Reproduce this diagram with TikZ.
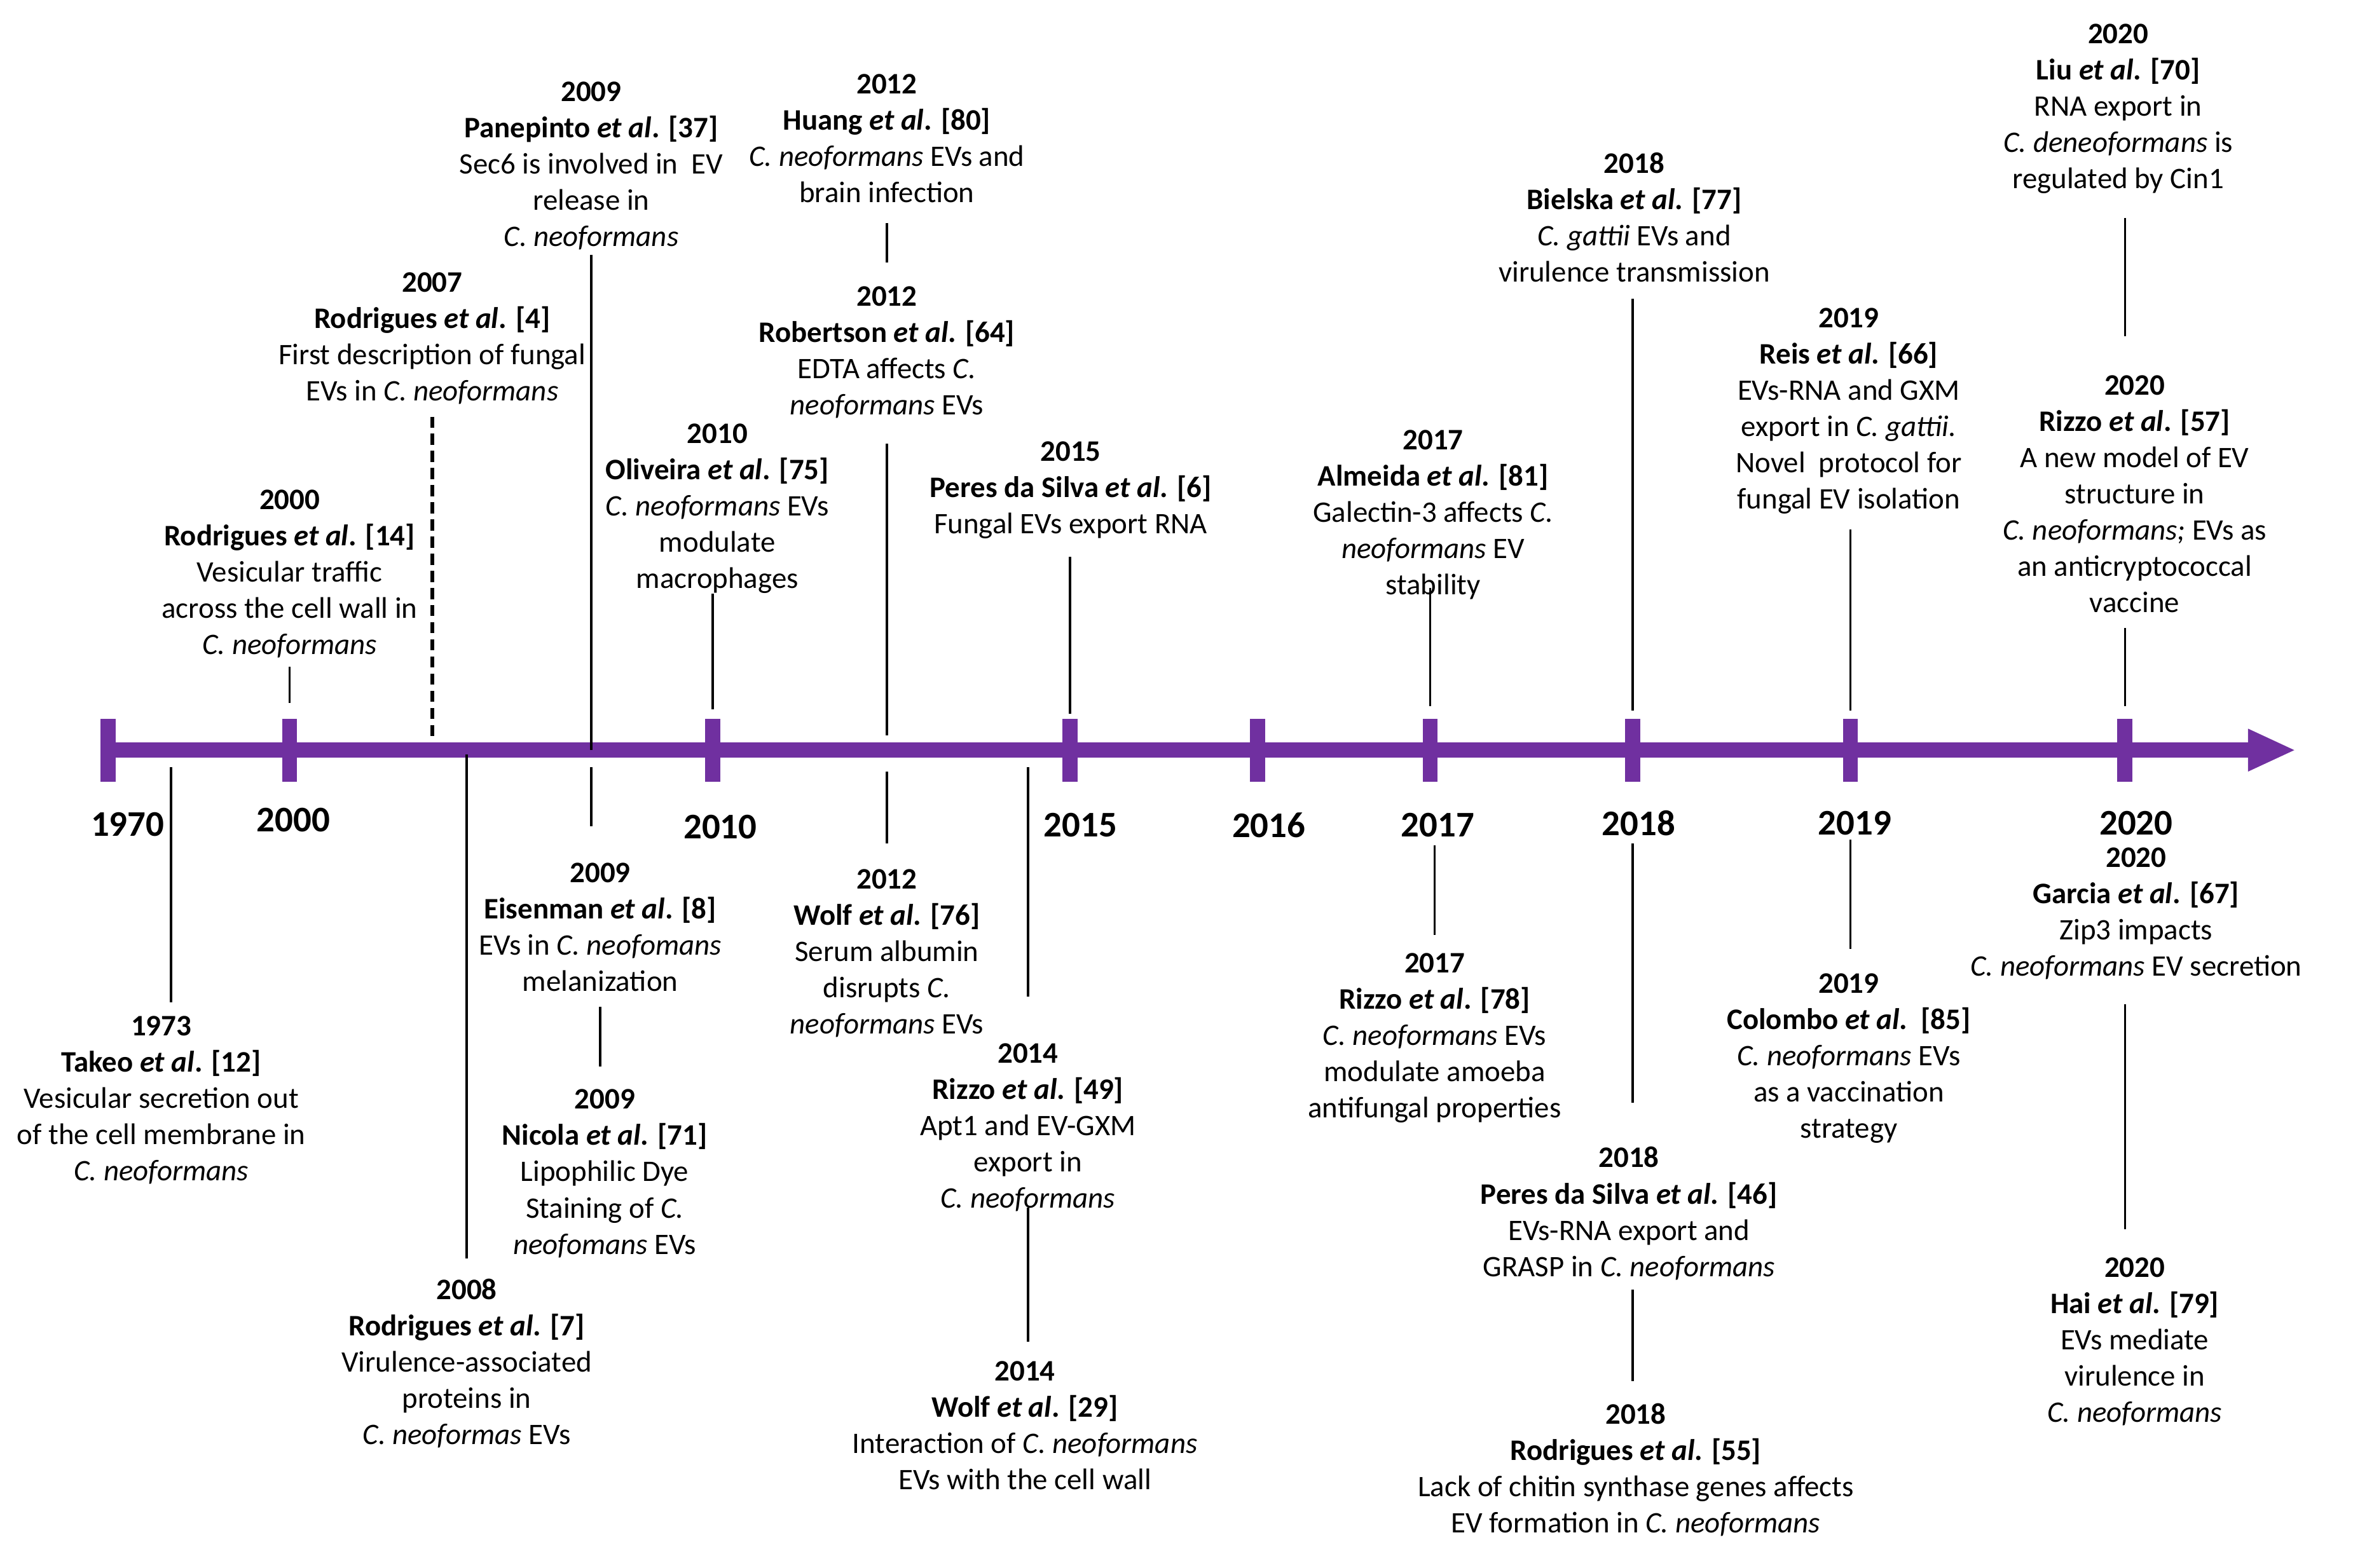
\documentclass[tikz,border=0pt]{standalone}
\usepackage{fontspec}
\setmainfont{Carlito}
\usepackage{tikz}
\usetikzlibrary{arrows.meta,calc,positioning}
\definecolor{evpurple}{RGB}{112,48,160}
\newcommand{\etal}{\textit{et al}.}
\newcommand{\cn}{\textit{C. neoformans}}
\tikzstyle{entry} = [align=center, anchor=north, inner sep=0pt,
    font=\fontsize{11.3}{13.75}\selectfont]
\tikzstyle{yearlab} = [inner sep=0pt, font=\fontsize{13.7}{16}\selectfont\bfseries]
\tikzstyle{tickmark} = [fill=evpurple, minimum width=0.2cm, minimum height=0.84cm, inner sep=0pt]
\tikzstyle{link} = [line width=0.85pt]
\tikzstyle{dashlink} = [line width=1.4pt, dash pattern=on 4.2pt off 2.3pt]
\tikzstyle{axisline} = [evpurple, line width=0.2cm, -{Triangle[length=0.64cm,width=0.52cm]}]

\begin{document}
\begin{tikzpicture}[x=0.02cm, y=-0.02cm]
  \fill[white] (0,0) rectangle (1568,1045);
  \useasboundingbox (0,0) rectangle (1568,1045);
  \coordinate (tip) at (1530,500);
  \foreach \yr/\x/\lx/\ly in {1970/72/85/549.5, 2000/193/195.5/546.7, 2010/475/480/551.3,
      2015/713/720/550, 2016/838/845.5/550, 2017/953/958/550, 2018/1088/1092/548.5,
      2019/1233/1236/548.5, 2020/1416/1423.5/548.5}{
    \node [tickmark] (t\yr) at (\x,500) {};
    \node [yearlab] (y\yr) at (\lx,\ly) {\yr};
  }
  \draw [axisline] (t1970.center) -- (tip);

  \node [entry] (rod00) at (193,326.2) {\textbf{2000}\\\textbf{Rodrigues \etal{} [14]}\\Vesicular traffic\\across the cell wall in\\\cn};
  \node [entry] (rod07) at (288,181.2) {\textbf{2007}\\\textbf{Rodrigues \etal{} [4]}\\First description of fungal\\EVs in \cn};
  \node [entry] (pane) at (394,54) {\textbf{2009}\\\textbf{Panepinto \etal{} [37]}\\Sec6 is involved in\ \ EV\\release in\\\cn};
  \node [entry] (huang) at (591,49.2) {\textbf{2012}\\\textbf{Huang \etal{} [80]}\\\cn{} EVs and\\brain infection};
  \node [entry] (robert) at (591,190.8) {\textbf{2012}\\\textbf{Robertson \etal{} [64]}\\EDTA affects \textit{C.}\\\textit{neoformans} EVs};
  \node [entry] (olive) at (478,282) {\textbf{2010}\\\textbf{Oliveira \etal{} [75]}\\\cn{} EVs\\modulate\\macrophages};
  \node [entry] (peres15) at (713.5,293.8) {\textbf{2015}\\\textbf{Peres da Silva \etal{} [6]}\\Fungal EVs export RNA};
  \node [entry] (almeida) at (955,286.2) {\textbf{2017}\\\textbf{Almeida \etal{} [81]}\\Galectin-3 affects \textit{C.}\\\textit{neoformans} EV\\stability};
  \node [entry] (bielska) at (1089,101.2) {\textbf{2018}\\\textbf{Bielska \etal{} [77]}\\\textit{C. gattii} EVs and\\virulence transmission};
  \node [entry] (reis) at (1232,205) {\textbf{2019}\\\textbf{Reis \etal{} [66]}\\EVs-RNA and GXM\\export in \textit{C. gattii.}\\Novel\ \ protocol for\\fungal EV isolation};
  \node [entry] (liu) at (1411.5,15.5) {\textbf{2020}\\\textbf{Liu \etal{} [70]}\\RNA export in\\\textit{C. deneoformans} is\\regulated by Cin1};
  \node [entry] (rizzo20) at (1422.5,249.9) {\textbf{2020}\\\textbf{Rizzo \etal{} [57]}\\A new model of EV\\structure in\\\textit{C. neoformans;} EVs as\\an anticryptococcal\\vaccine};

  \node [entry] (takeo) at (107.5,676.8) {\textbf{1973}\\\textbf{Takeo \etal{} [12]}\\Vesicular secretion out\\of the cell membrane in\\\cn};
  \node [entry] (rod08) at (311,852.2) {\textbf{2008}\\\textbf{Rodrigues \etal{} [7]}\\Virulence-associated\\proteins in\\\textit{C. neoformas} EVs};
  \node [entry] (eisen) at (400,574.7) {\textbf{2009}\\\textbf{Eisenman \etal{} [8]}\\EVs in \textit{C. neofomans}\\melanization};
  \node [entry] (nicola) at (403,725.9) {\textbf{2009}\\\textbf{Nicola \etal{} [71]}\\Lipophilic Dye\\Staining of \textit{C.}\\\textit{neofomans} EVs};
  \node [entry] (wolf12) at (591,579.2) {\textbf{2012}\\\textbf{Wolf \etal{} [76]}\\Serum albumin\\disrupts \textit{C.}\\\textit{neoformans} EVs};
  \node [entry] (rizzo14) at (685,695.2) {\textbf{2014}\\\textbf{Rizzo \etal{} [49]}\\Apt1 and EV-GXM\\export in\\\cn};
  \node [entry] (wolf14) at (683,907.2) {\textbf{2014}\\\textbf{Wolf \etal{} [29]}\\Interaction of \cn\\EVs with the cell wall};
  \node [entry] (rizzo17) at (956,635.2) {\textbf{2017}\\\textbf{Rizzo \etal{} [78]}\\\cn{} EVs\\modulate amoeba\\antifungal properties};
  \node [entry] (peres18) at (1085.5,764.2) {\textbf{2018}\\\textbf{Peres da Silva \etal{} [46]}\\EVs-RNA export and\\GRASP in \cn};
  \node [entry] (rod18) at (1090,935) {\textbf{2018}\\\textbf{Rodrigues \etal{} [55]}\\Lack of chitin synthase genes affects\\EV formation in \cn};
  \node [entry] (colombo) at (1232,648.7) {\textbf{2019}\\\textbf{Colombo \etal\ \ [85]}\\\cn{} EVs\\as a vaccination\\strategy};
  \node [entry] (garcia) at (1423.5,564.8) {\textbf{2020}\\\textbf{Garcia \etal{} [67]}\\Zip3 impacts\\\cn{} EV secretion};
  \node [entry] (hai) at (1422.5,837.9) {\textbf{2020}\\\textbf{Hai \etal{} [79]}\\EVs mediate\\virulence in\\\cn};

  \draw [link, shorten <=0.11cm, shorten >=0.2cm] (rod00.south -| t2000) -- (t2000.north);
  \draw [dashlink, shorten <=0.16cm, shorten >=0.12cm] (rod07.south) -- (rod07.south |- t1970);
  \draw [link, shorten <=0.06cm] (pane.south) -- (pane.south |- t1970);
  \draw [link, shorten <=0.26cm, shorten >=0.32cm] (huang.south) -- (huang.south |- robert.north);
  \draw [link, shorten <=0.33cm, shorten >=0.2cm] (robert.south) -- (robert.south |- t1970);
  \draw [link, shorten >=0.12cm] (olive.south -| t2010) -- (t2010.north);
  \draw [link, shorten <=0.24cm, shorten >=0.06cm] (peres15.south -| t2015) -- (t2015.north);
  \draw [link, shorten <=-0.16cm, shorten >=0.16cm] (almeida.south -| t2017) -- (t2017.north);
  \draw [link, shorten <=0.22cm, shorten >=0.1cm] (bielska.south -| t2018) -- (t2018.north);
  \draw [link, shorten <=0.2cm, shorten >=0.1cm] (reis.south -| t2019) -- (t2019.north);
  \draw [link, shorten <=0.32cm, shorten >=0.52cm] (liu.south -| t2020) -- (rizzo20.north -| t2020);
  \draw [link, shorten <=0.2cm, shorten >=0.16cm] (rizzo20.south -| t2020) -- (t2020.north);

  \draw [link, shorten <=0.23cm, shorten >=0.17cm] ($(takeo.north |- t1970)+(6.5,0)$) -- ($(takeo.north)+(6.5,0)$);
  \draw [link, shorten <=0.06cm, shorten >=0.27cm] (rod08.north |- t1970) -- (rod08.north);
  \draw [link, shorten <=0.23cm, shorten >=0.48cm] (pane.south |- t1970) -- (pane.south |- eisen.north);
  \draw [link, shorten <=0.2cm, shorten >=0.3cm] (eisen.south) -- (eisen.south |- nicola.north);
  \draw [link, shorten <=0.29cm, shorten >=0.34cm] (wolf12.north |- t1970) -- (wolf12.north);
  \draw [link, shorten <=0.23cm, shorten >=0.62cm] (rizzo14.north |- t1970) -- (rizzo14.north);
  \draw [link, shorten <=-0.06cm, shorten >=0.26cm] (rizzo14.south) -- (rizzo14.south |- wolf14.north);
  \draw [link, shorten <=0.1cm, shorten >=0.24cm] (rizzo17.north |- y2017.south) -- (rizzo17.north);
  \draw [link, shorten <=0.1cm, shorten >=0.58cm] (y2018.south -| t2018) -- (peres18.north -| t2018);
  \draw [link, shorten <=0.12cm, shorten >=0.29cm] (peres18.south -| t2018) -- (rod18.north -| t2018);
  \draw [link, shorten <=0.06cm, shorten >=0.32cm] (y2019.south -| t2019) -- (colombo.north -| t2019);
  \draw [link, shorten <=0.32cm, shorten >=0.37cm] (garcia.south -| t2020) -- (hai.north -| t2020);
\end{tikzpicture}
\end{document}
